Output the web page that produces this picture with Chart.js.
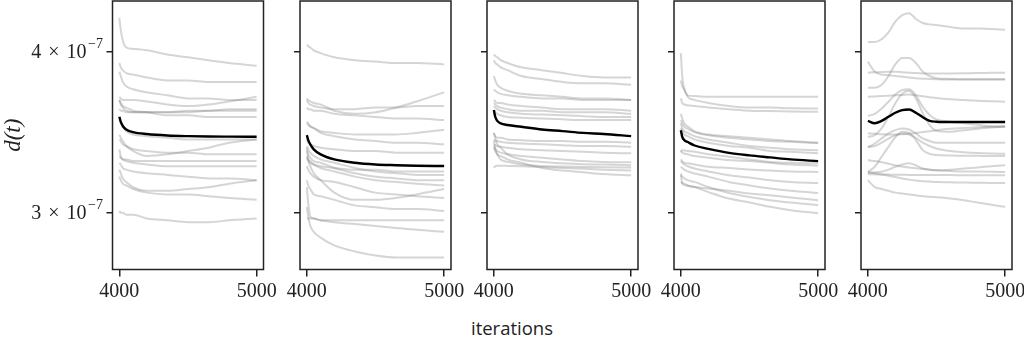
<!DOCTYPE html>
<html><head><meta charset="utf-8">
<script src="https://cdn.jsdelivr.net/npm/chart.js@4.4.1/dist/chart.umd.min.js"></script>
<style>
html,body{margin:0;padding:0;width:1024px;height:338px;overflow:hidden;background:#fff;}
canvas.pane{position:absolute;top:0;}
#xlabel{position:absolute;left:0;top:318px;width:1024px;text-align:center;font-family:'Open Sans',sans-serif;font-size:18.5px;line-height:19px;color:#222;}
</style></head><body>
<div id="xlabel">iterations</div>
<script>
// ---- data (d(t) values in units of 1e-7) ----
const UNIT = 1e-7;
const X_STEPS = [4000, 4010, 4025, 4050, 4100, 4200, 4350, 4500, 4650, 4800, 5000];
const X_STEPS_5 = [4000, 4050, 4100, 4150, 4200, 4250, 4300, 4350, 4400, 4450, 4500, 4600, 4700, 4800, 4900, 5000];
const X_TICKS = [4000, 5000];
const X_TICK_LABELS = ['4000', '5000'];
const Y_TICKS = [3e-7, 4e-7];
const Y_TICK_MANTISSA = ['3', '4'];
const Y_TICK_EXP = '\u22127';
const X_TITLE = 'iterations';
const Y_TITLE = 'd(t)';

const panel1Mean = [3.561, 3.530, 3.503, 3.481, 3.465, 3.453, 3.444, 3.440, 3.438, 3.437, 3.436];
const panel1Runs = [
  [4.25, 4.16, 4.08, 4.03, 4.02, 4.01, 3.98, 3.96, 3.94, 3.92, 3.90],
  [3.92, 3.89, 3.87, 3.85, 3.84, 3.82, 3.80, 3.80, 3.79, 3.79, 3.79],
  [3.86, 3.83, 3.79, 3.76, 3.74, 3.72, 3.70, 3.68, 3.68, 3.67, 3.67],
  [3.69, 3.68, 3.67, 3.67, 3.67, 3.66, 3.64, 3.63, 3.64, 3.66, 3.69],
  [3.61, 3.60, 3.60, 3.59, 3.59, 3.59, 3.59, 3.60, 3.60, 3.61, 3.61],
  [3.67, 3.65, 3.63, 3.62, 3.60, 3.59, 3.57, 3.57, 3.56, 3.56, 3.56],
  [3.67, 3.64, 3.62, 3.60, 3.59, 3.59, 3.59, 3.59, 3.60, 3.60, 3.60],
  [3.54, 3.52, 3.50, 3.47, 3.45, 3.44, 3.43, 3.42, 3.42, 3.42, 3.42],
  [3.45, 3.43, 3.41, 3.38, 3.35, 3.32, 3.33, 3.35, 3.37, 3.40, 3.42],
  [3.42, 3.41, 3.39, 3.38, 3.36, 3.35, 3.34, 3.34, 3.33, 3.33, 3.33],
  [3.36, 3.32, 3.30, 3.30, 3.29, 3.29, 3.29, 3.29, 3.29, 3.29, 3.29],
  [3.32, 3.31, 3.30, 3.29, 3.28, 3.27, 3.26, 3.26, 3.26, 3.26, 3.26],
  [3.28, 3.27, 3.25, 3.24, 3.23, 3.22, 3.21, 3.20, 3.19, 3.19, 3.18],
  [3.24, 3.22, 3.19, 3.17, 3.14, 3.12, 3.12, 3.13, 3.14, 3.16, 3.18],
  [3.20, 3.18, 3.16, 3.15, 3.13, 3.11, 3.10, 3.10, 3.09, 3.08, 3.07],
  [3.01, 3.00, 3.00, 2.99, 2.99, 2.97, 2.96, 2.95, 2.95, 2.96, 2.97]
];

const panel2Mean = [3.446, 3.416, 3.390, 3.360, 3.330, 3.300, 3.280, 3.270, 3.266, 3.263, 3.261];
const panel2Runs = [
  [4.05, 4.04, 4.03, 4.01, 3.99, 3.96, 3.94, 3.93, 3.92, 3.92, 3.91],
  [3.68, 3.67, 3.66, 3.65, 3.64, 3.60, 3.58, 3.59, 3.62, 3.66, 3.72],
  [3.67, 3.65, 3.64, 3.63, 3.62, 3.61, 3.61, 3.62, 3.62, 3.63, 3.63],
  [3.62, 3.61, 3.61, 3.60, 3.60, 3.58, 3.57, 3.56, 3.55, 3.55, 3.54],
  [3.52, 3.51, 3.50, 3.49, 3.47, 3.46, 3.45, 3.45, 3.45, 3.46, 3.48],
  [3.53, 3.52, 3.50, 3.49, 3.46, 3.44, 3.42, 3.41, 3.40, 3.40, 3.39],
  [3.42, 3.40, 3.39, 3.38, 3.37, 3.36, 3.35, 3.35, 3.34, 3.34, 3.34],
  [3.31, 3.29, 3.28, 3.27, 3.26, 3.25, 3.24, 3.24, 3.23, 3.23, 3.23],
  [3.38, 3.36, 3.34, 3.32, 3.30, 3.28, 3.25, 3.23, 3.22, 3.21, 3.21],
  [3.35, 3.33, 3.31, 3.29, 3.28, 3.25, 3.22, 3.20, 3.19, 3.18, 3.18],
  [3.32, 3.30, 3.29, 3.27, 3.25, 3.23, 3.20, 3.18, 3.17, 3.16, 3.15],
  [3.37, 3.30, 3.26, 3.22, 3.18, 3.11, 3.07, 3.07, 3.08, 3.10, 3.13],
  [3.26, 3.24, 3.22, 3.20, 3.18, 3.17, 3.14, 3.11, 3.10, 3.09, 3.08],
  [3.18, 3.15, 3.13, 3.10, 3.09, 3.07, 3.04, 3.03, 3.02, 3.02, 3.01],
  [2.97, 2.97, 2.97, 2.97, 2.96, 2.96, 2.96, 2.96, 2.96, 2.96, 2.96],
  [3.14, 3.05, 2.98, 2.97, 2.96, 2.95, 2.94, 2.93, 2.92, 2.91, 2.90],
  [3.03, 2.98, 2.93, 2.90, 2.87, 2.83, 2.80, 2.78, 2.77, 2.77, 2.77]
];

const panel3Mean = [3.604, 3.561, 3.535, 3.519, 3.509, 3.498, 3.481, 3.471, 3.460, 3.453, 3.440];
const panel3Runs = [
  [3.98, 3.97, 3.96, 3.94, 3.92, 3.89, 3.87, 3.85, 3.83, 3.82, 3.82],
  [3.94, 3.92, 3.91, 3.89, 3.87, 3.83, 3.81, 3.79, 3.78, 3.78, 3.77],
  [3.83, 3.80, 3.77, 3.75, 3.73, 3.71, 3.70, 3.69, 3.68, 3.68, 3.67],
  [3.74, 3.73, 3.72, 3.71, 3.70, 3.69, 3.68, 3.68, 3.67, 3.67, 3.67],
  [3.67, 3.66, 3.65, 3.65, 3.64, 3.63, 3.62, 3.61, 3.61, 3.61, 3.60],
  [3.65, 3.64, 3.63, 3.62, 3.61, 3.60, 3.60, 3.59, 3.59, 3.59, 3.58],
  [3.63, 3.62, 3.61, 3.60, 3.59, 3.58, 3.575, 3.57, 3.565, 3.56, 3.56],
  [3.60, 3.59, 3.58, 3.57, 3.56, 3.555, 3.55, 3.545, 3.54, 3.54, 3.54],
  [3.46, 3.44, 3.43, 3.43, 3.42, 3.415, 3.41, 3.41, 3.405, 3.405, 3.40],
  [3.42, 3.41, 3.41, 3.405, 3.40, 3.395, 3.39, 3.385, 3.38, 3.38, 3.375],
  [3.39, 3.385, 3.38, 3.375, 3.37, 3.36, 3.355, 3.35, 3.345, 3.34, 3.336],
  [3.38, 3.36, 3.35, 3.34, 3.33, 3.32, 3.31, 3.30, 3.29, 3.285, 3.283],
  [3.46, 3.43, 3.39, 3.37, 3.33, 3.30, 3.285, 3.277, 3.272, 3.27, 3.266],
  [3.41, 3.37, 3.33, 3.30, 3.286, 3.27, 3.262, 3.258, 3.256, 3.254, 3.253],
  [3.25, 3.26, 3.263, 3.263, 3.262, 3.26, 3.255, 3.25, 3.245, 3.24, 3.235],
  [3.37, 3.35, 3.33, 3.32, 3.30, 3.28, 3.25, 3.235, 3.225, 3.215, 3.208]
];

const panel4Mean = [3.477, 3.436, 3.416, 3.404, 3.383, 3.363, 3.339, 3.324, 3.312, 3.300, 3.290];
const panel4Runs = [
  [3.99, 3.83, 3.74, 3.70, 3.695, 3.69, 3.69, 3.69, 3.69, 3.69, 3.69],
  [3.80, 3.76, 3.74, 3.69, 3.67, 3.65, 3.63, 3.62, 3.62, 3.615, 3.614],
  [3.68, 3.65, 3.64, 3.635, 3.63, 3.62, 3.61, 3.60, 3.598, 3.595, 3.593],
  [3.58, 3.55, 3.52, 3.50, 3.47, 3.45, 3.44, 3.43, 3.42, 3.41, 3.40],
  [3.54, 3.52, 3.50, 3.485, 3.465, 3.445, 3.43, 3.42, 3.41, 3.405, 3.398],
  [3.52, 3.49, 3.47, 3.46, 3.44, 3.42, 3.40, 3.38, 3.37, 3.36, 3.355],
  [3.49, 3.47, 3.45, 3.44, 3.42, 3.40, 3.38, 3.37, 3.35, 3.345, 3.336],
  [3.35, 3.34, 3.335, 3.33, 3.32, 3.31, 3.296, 3.29, 3.28, 3.27, 3.263],
  [3.345, 3.355, 3.353, 3.35, 3.345, 3.33, 3.316, 3.30, 3.285, 3.28, 3.277],
  [3.30, 3.29, 3.28, 3.277, 3.27, 3.257, 3.25, 3.241, 3.235, 3.23, 3.227],
  [3.29, 3.28, 3.27, 3.26, 3.247, 3.23, 3.208, 3.195, 3.18, 3.17, 3.164],
  [3.257, 3.25, 3.24, 3.23, 3.218, 3.20, 3.17, 3.15, 3.133, 3.12, 3.108],
  [3.218, 3.16, 3.152, 3.148, 3.141, 3.133, 3.12, 3.105, 3.095, 3.083, 3.068],
  [3.208, 3.20, 3.19, 3.18, 3.17, 3.141, 3.108, 3.086, 3.068, 3.055, 3.041],
  [3.17, 3.165, 3.16, 3.15, 3.141, 3.113, 3.077, 3.056, 3.032, 3.014, 2.997]
];

const panel5Mean = [3.535, 3.52, 3.535, 3.561, 3.587, 3.604, 3.608, 3.587, 3.558, 3.535, 3.530, 3.528, 3.528, 3.528, 3.528, 3.528];
const panel5Runs = [
  [4.07, 4.07, 4.09, 4.14, 4.22, 4.27, 4.285, 4.24, 4.21, 4.20, 4.195, 4.18, 4.17, 4.17, 4.165, 4.16],
  [3.75, 3.75, 3.77, 3.83, 3.91, 3.955, 3.955, 3.92, 3.86, 3.83, 3.815, 3.81, 3.808, 3.808, 3.808, 3.808],
  [3.93, 3.86, 3.84, 3.835, 3.83, 3.825, 3.82, 3.815, 3.812, 3.81, 3.808, 3.806, 3.806, 3.806, 3.806, 3.806],
  [3.853, 3.855, 3.858, 3.859, 3.859, 3.856, 3.853, 3.85, 3.848, 3.847, 3.847, 3.848, 3.849, 3.85, 3.852, 3.853],
  [3.691, 3.693, 3.695, 3.698, 3.70, 3.703, 3.706, 3.70, 3.694, 3.688, 3.682, 3.675, 3.669, 3.665, 3.661, 3.658],
  [3.566, 3.58, 3.614, 3.658, 3.706, 3.735, 3.74, 3.70, 3.625, 3.573, 3.544, 3.53, 3.52, 3.51, 3.50, 3.498],
  [3.436, 3.446, 3.488, 3.561, 3.648, 3.711, 3.731, 3.68, 3.583, 3.509, 3.473, 3.467, 3.477, 3.485, 3.494, 3.498],
  [3.457, 3.455, 3.452, 3.45, 3.45, 3.452, 3.455, 3.46, 3.465, 3.47, 3.476, 3.485, 3.49, 3.495, 3.50, 3.503],
  [3.371, 3.395, 3.426, 3.457, 3.477, 3.488, 3.481, 3.457, 3.426, 3.41, 3.40, 3.40, 3.40, 3.40, 3.40, 3.399],
  [3.227, 3.257, 3.316, 3.375, 3.432, 3.467, 3.46, 3.416, 3.355, 3.333, 3.326, 3.323, 3.322, 3.321, 3.32, 3.32],
  [3.375, 3.38, 3.40, 3.425, 3.445, 3.457, 3.45, 3.43, 3.40, 3.38, 3.365, 3.35, 3.343, 3.338, 3.335, 3.333],
  [3.222, 3.224, 3.228, 3.24, 3.257, 3.27, 3.277, 3.265, 3.247, 3.24, 3.237, 3.24, 3.247, 3.253, 3.26, 3.266],
  [3.296, 3.29, 3.283, 3.275, 3.265, 3.258, 3.252, 3.248, 3.244, 3.24, 3.237, 3.233, 3.23, 3.229, 3.228, 3.227],
  [3.214, 3.213, 3.212, 3.212, 3.211, 3.211, 3.21, 3.21, 3.21, 3.209, 3.209, 3.209, 3.208, 3.208, 3.208, 3.208],
  [3.227, 3.22, 3.212, 3.205, 3.198, 3.19, 3.183, 3.178, 3.174, 3.172, 3.17, 3.168, 3.166, 3.165, 3.164, 3.164],
  [3.18, 3.141, 3.13, 3.12, 3.11, 3.105, 3.10, 3.095, 3.09, 3.087, 3.085, 3.078, 3.068, 3.055, 3.043, 3.032]
];

const PANELS = [
  {xs: X_STEPS, runs: panel1Runs, mean: panel1Mean},
  {xs: X_STEPS, runs: panel2Runs, mean: panel2Mean},
  {xs: X_STEPS, runs: panel3Runs, mean: panel3Mean},
  {xs: X_STEPS, runs: panel4Runs, mean: panel4Mean},
  {xs: X_STEPS_5, runs: panel5Runs, mean: panel5Mean}
];

// ---- layout / style ----
const X_MIN = 3950, X_MAX = 5050;
const Y_MIN = 2.711e-7, Y_MAX = 4.379e-7;
const BOX_W = 151, BOX_STEP = 187, BOX_LEFT0 = 112.5;
const CANVAS_H = 310, BOX_BOTTOM = 269.5, RIGHT_PAD = 30;
const AXIS_COLOR = '#222';
const SERIF = '"Liberation Serif", "DejaVu Serif", serif';

const boxPlugin = {
  id: 'boxFrame',
  afterDraw(chart) {
    const {ctx, chartArea: a} = chart;
    ctx.save();
    ctx.strokeStyle = AXIS_COLOR;
    ctx.lineWidth = 1.5;
    ctx.strokeRect(a.left, a.top, a.right - a.left, a.bottom - a.top);
    ctx.restore();
  }
};

const yLabelPlugin = {
  id: 'yTickText',
  afterDraw(chart, args, opts) {
    if (!opts || !opts.show) return;
    const ctx = chart.ctx, s = chart.scales.y;
    ctx.save();
    ctx.fillStyle = AXIS_COLOR;
    ctx.textBaseline = 'alphabetic';
    ctx.textAlign = 'left';
    Y_TICKS.forEach((v, i) => {
      const y = s.getPixelForValue(v);
      const xr = chart.chartArea.left - 9.5;
      ctx.font = '14px ' + SERIF;
      const wExp = ctx.measureText(Y_TICK_EXP).width;
      ctx.font = '20px ' + SERIF;
      const wM = ctx.measureText(Y_TICK_MANTISSA[i]).width;
      const wX = ctx.measureText('\u00d7').width;
      const wT = ctx.measureText('10').width;
      const gap = 7;
      const total = wM + gap + wX + gap + wT + 1.5 + wExp;
      let x = xr - total;
      ctx.fillText(Y_TICK_MANTISSA[i], x, y + 6.5); x += wM + gap;
      ctx.fillText('\u00d7', x, y + 6.5); x += wX + gap;
      ctx.fillText('10', x, y + 6.5); x += wT + 1.5;
      ctx.font = '14px ' + SERIF;
      ctx.fillText(Y_TICK_EXP, x, y - 3.5);
    });
    ctx.restore();
  }
};

function buildDatasets(xs, runs, mean) {
  const toPts = arr => arr.map((v, i) => ({x: xs[i], y: v * UNIT}));
  const common = {pointRadius: 0, fill: false, cubicInterpolationMode: 'monotone'};
  const ds = [Object.assign({data: toPts(mean), borderColor: '#000', borderWidth: 2.4}, common)];
  runs.forEach(r => ds.push(Object.assign({data: toPts(r), borderColor: 'rgba(128,128,128,0.33)', borderWidth: 2}, common)));
  return ds;
}

PANELS.forEach((p, i) => {
  const boxLeft = BOX_LEFT0 + BOX_STEP * i;
  const leftSpace = i === 0 ? boxLeft : 40;
  const cv = document.createElement('canvas');
  cv.className = 'pane';
  const w = Math.round(leftSpace + BOX_W + RIGHT_PAD);
  cv.width = w; cv.height = CANVAS_H;
  cv.style.width = w + 'px'; cv.style.height = CANVAS_H + 'px';
  cv.style.left = (boxLeft - leftSpace) + 'px';
  document.body.appendChild(cv);
  new Chart(cv.getContext('2d'), {
    type: 'line',
    data: {datasets: buildDatasets(p.xs, p.runs, p.mean)},
    plugins: [boxPlugin, yLabelPlugin],
    options: {
      responsive: false,
      animation: false,
      events: [],
      layout: {padding: {top: 1, right: w - leftSpace - BOX_W, bottom: 0, left: 0}},
      plugins: {legend: {display: false}, tooltip: {enabled: false}, yTickText: {show: i === 0}},
      scales: {
        x: {
          type: 'linear', min: X_MIN, max: X_MAX,
          afterBuildTicks: s => { s.ticks = X_TICKS.map(v => ({value: v})); },
          afterFit: s => { s.height = CANVAS_H - BOX_BOTTOM; s.paddingLeft = 0; s.paddingRight = 0; },
          ticks: {
            callback: (v, idx) => X_TICK_LABELS[idx],
            font: {family: SERIF, size: 20}, color: AXIS_COLOR, padding: 3, maxRotation: 0, autoSkip: false
          },
          grid: {drawOnChartArea: false, drawTicks: true, tickLength: 7, color: AXIS_COLOR, lineWidth: 1.5},
          border: {display: false}
        },
        y: {
          type: 'logarithmic', min: Y_MIN, max: Y_MAX, bounds: 'data',
          afterBuildTicks: s => { s.ticks = Y_TICKS.map(v => ({value: v})); },
          afterFit: s => { s.width = leftSpace; s.paddingTop = 0; s.paddingBottom = 0; },
          ticks: {callback: () => '', autoSkip: false},
          grid: {drawOnChartArea: false, drawTicks: true, tickLength: 6, color: AXIS_COLOR, lineWidth: 1.5},
          border: {display: false},
          title: {
            display: i === 0, text: Y_TITLE, color: AXIS_COLOR,
            font: {family: SERIF, size: 23, style: 'italic'}, padding: {top: 0, bottom: 0}
          }
        }
      }
    }
  });
});
</script>
</body></html>
